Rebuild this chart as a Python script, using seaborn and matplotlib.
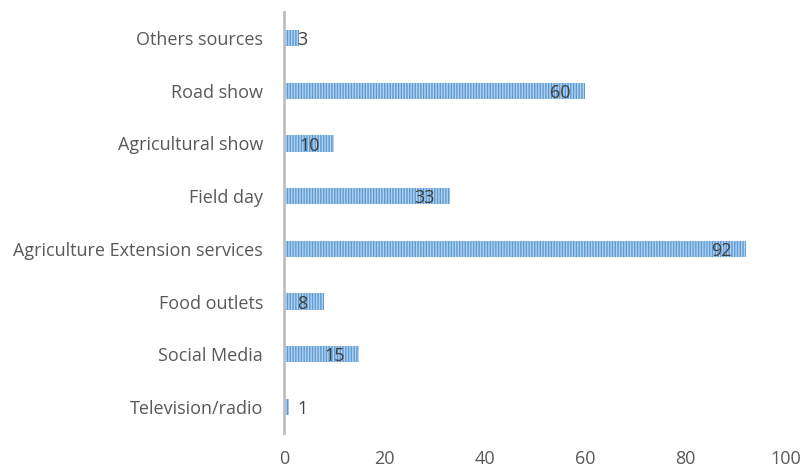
import matplotlib
matplotlib.use("Agg")
import matplotlib.pyplot as plt
import seaborn as sns
import pandas as pd

categories = ["Others sources", "Road show", "Agricultural show", "Field day",
              "Agriculture Extension services", "Food outlets", "Social Media",
              "Television/radio"]
values = [3, 60, 10, 33, 92, 8, 15, 1]
xticks = [0, 20, 40, 60, 80, 100]

sns.set_theme(style="white")
plt.rcParams['font.family'] = ['Open Sans', 'DejaVu Sans']
plt.rcParams['hatch.linewidth'] = 1.0

df = pd.DataFrame({"cat": categories, "val": values})

fig = plt.figure(figsize=(8.06, 4.69), dpi=100)
ax = fig.add_axes([0.3524, 0.076, 0.623, 0.899])
sns.barplot(data=df, x="val", y="cat", orient="h", ax=ax, width=0.31,
            color="#B4D2EE", saturation=1)
for p in ax.patches:
    p.set_hatch("||||||")
    p.set_edgecolor("#5B9BD5")
    p.set_linewidth(0)
    p.set_facecolor("#B4D2EE")

ax.set_xlim(0, 100)
ax.set_ylim(7.5, -0.5)
ax.set_xticks(xticks)
ax.set_xticklabels([str(t) for t in xticks])
ax.set_xlabel("")
ax.set_ylabel("")
for s in ["top", "right", "bottom"]:
    ax.spines[s].set_visible(False)
ax.spines["left"].set_color("#BFBFBF")
ax.spines["left"].set_linewidth(2)
ax.tick_params(axis="x", length=0, pad=12, labelsize=13, labelcolor="#595959")
ax.tick_params(axis="y", length=0, pad=15, labelsize=13, labelcolor="#595959")

for i, v in enumerate(values):
    x = max(v - 7, 2.6)
    ax.text(x, i + 0.04, str(v), ha="left", va="center", fontsize=13, color="#404040")

fig.savefig("out.png", dpi=100)
